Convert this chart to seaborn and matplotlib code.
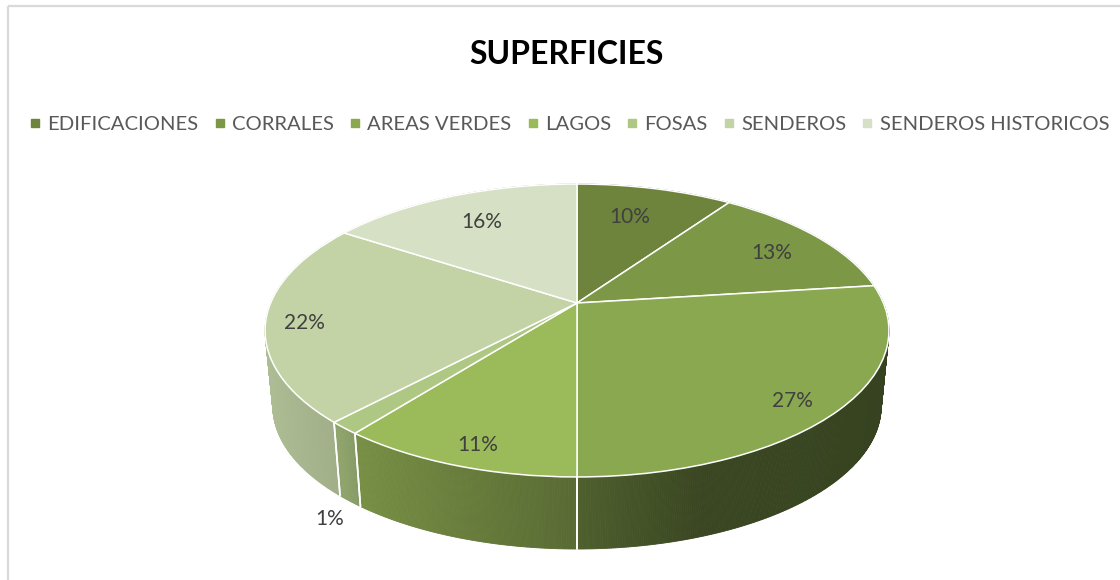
import numpy as np
import matplotlib
matplotlib.use("Agg")
import matplotlib.pyplot as plt
import seaborn as sns
from matplotlib.lines import Line2D
from matplotlib.patches import Rectangle
from matplotlib.transforms import Transform

categories = ["EDIFICACIONES", "CORRALES", "AREAS VERDES", "LAGOS", "FOSAS", "SENDEROS", "SENDEROS HISTORICOS"]
values = [9.7, 13.3, 27, 10.6, 1.4, 22.2, 15.8]
tops = ["#6e843c", "#7c9746", "#8aa850", "#9bba59", "#aec883", "#c3d3a6", "#d6e0c4"]

# where excel put the labels, in pixels
label_xy = [(630, 217), (772, 253), (792, 401), (478, 445), (330, 519), (304, 323), (482, 222)]

CX, CY = 577, 303
RX, RY, K = 306.4, 141.3, 0.1877
DEPTH, SHRINK = 76.4, 0.975


def project(u, v, s=1.0, d=0.0):
    w = 1 + K * v
    return CX + s * RX * u / w, CY + d - s * RY * v / w


class Tilt(Transform):
    # unit circle -> tilted disc in pixel coords
    input_dims = 2
    output_dims = 2

    def transform_non_affine(self, xy):
        xy = np.asarray(xy, dtype=float)
        x, y = project(xy[:, 0], xy[:, 1])
        return np.column_stack([x, y])


def shade(x):
    return np.interp(x, [270, 340, 355, 577, 700, 888], [0.89, 0.82, 0.77, 0.57, 0.42, 0.40])


sns.set_theme(style="white")
plt.rcParams["font.family"] = ["Lato", "DejaVu Sans"]
palette = sns.color_palette(tops)

fig = plt.figure(figsize=(11.2, 5.8), dpi=100)
ax = fig.add_axes([0, 0, 1, 1])

wedges, _ = ax.pie(values, colors=palette, startangle=90, counterclock=False,
                   wedgeprops=dict(edgecolor="white", linewidth=1.1, zorder=5,
                                   transform=Tilt() + ax.transData))
ax.set_aspect("auto")
ax.set_xlim(0, 1120)
ax.set_ylim(580, 0)
ax.axis("off")

# side wall, many thin strips so the shading looks like a gradient
for w, col in zip(wedges, palette):
    t = np.radians(np.linspace(w.theta1, w.theta2, max(int(w.theta2 - w.theta1) * 3, 3)))
    u, v = np.cos(t), np.sin(t)
    x1, y1 = project(u, v)
    x2, y2 = project(u, v, SHRINK, DEPTH)
    for i in range(len(t) - 1):
        c = np.array(col) * shade((x1[i] + x1[i + 1]) / 2)
        ax.fill([x1[i], x1[i + 1], x2[i + 1], x2[i]], [y1[i], y1[i + 1], y2[i + 1], y2[i]],
                color=c, lw=0.6, zorder=2)
    ax.plot([x1[0], x2[0]], [y1[0], y2[0]], color="white", lw=1.2, zorder=3)
    ax.plot([x1[-1], x2[-1]], [y1[-1], y2[-1]], color="white", lw=1.2, zorder=3)

for val, (lx, ly) in zip(values, label_xy):
    ax.text(lx, ly, f"{round(val)}%", ha="center", va="center", fontsize=15, color="#404040", zorder=6)

ax.text(566, 54.5, "SUPERFICIES", ha="center", va="center", fontsize=23, fontweight="bold", color="black")

handles = [Line2D([], [], marker="s", ls="", ms=6, color=c) for c in palette]
ax.legend(handles, categories, ncol=7, loc="center", bbox_to_anchor=(567 / 1120, 1 - 124 / 580),
          frameon=False, fontsize=14.6, labelcolor="#595959", handletextpad=0.1,
          columnspacing=0.55, handlelength=1.0, borderpad=0, borderaxespad=0)

# chart border, runs off the picture on the right and bottom
ax.add_patch(Rectangle((8, 6), 1200, 700, fill=False, ec="#d9d9d9", lw=1.6, clip_on=True, zorder=1))

fig.savefig("out.png", dpi=100, facecolor="white")
